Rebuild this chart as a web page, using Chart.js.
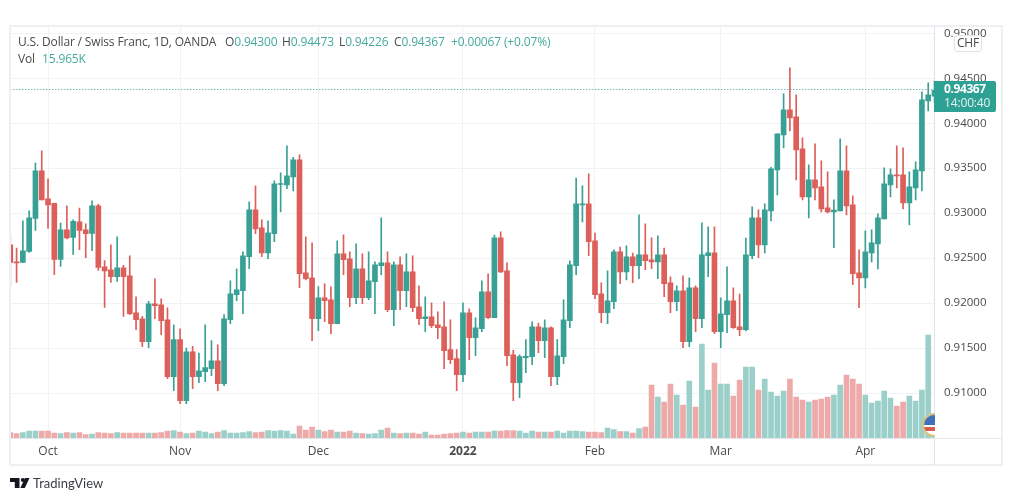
<!DOCTYPE html>
<html>
<head>
<meta charset="utf-8">
<title>USD/CHF</title>
<script src="https://cdn.jsdelivr.net/npm/chart.js@4"></script>
<style>
    html, body { margin: 0; padding: 0; background: #fff; }
    body { width: 1012px; height: 501px; overflow: hidden; position: relative; font-family: "Open Sans", sans-serif; color: #4a4a4a; }
    canvas { position: absolute; left: 0; top: 0; }
    .box { position: absolute; box-sizing: border-box; }
    .txt { position: absolute; white-space: nowrap; font-size: 12px; line-height: 16px; letter-spacing: -0.15px; }
    .up { color: #45a99d; }
</style>
</head>
<body>
<canvas id="myChart" width="1012" height="501"></canvas>

<div class="box" style="left:9px;top:25px;width:994px;height:441px;border:2px solid #eef0f3;"></div>
<div class="box" style="left:934px;top:26px;width:1px;height:439px;background:#e0e3eb;"></div>
<div class="box" style="left:10px;top:438px;width:992px;height:1px;background:#e6e8ee;"></div>

<div class="txt" style="left:18px;top:34px;">U.S. Dollar / Swiss Franc, 1D, OANDA</div>
<div class="txt" style="left:225px;top:34px;">O<span class="up">0.94300</span></div>
<div class="txt" style="left:282px;top:34px;">H<span class="up">0.94473</span></div>
<div class="txt" style="left:339px;top:34px;">L<span class="up">0.94226</span></div>
<div class="txt" style="left:394px;top:34px;">C<span class="up">0.94367</span></div>
<div class="txt up" style="left:451px;top:34px;">+0.00067 (+0.07%)</div>
<div class="txt" style="left:18px;top:51px;">Vol</div>
<div class="txt up" style="left:42px;top:51px;">15.965K</div>

<div class="box" style="left:954px;top:35px;width:28px;height:17px;background:#fff;border:1px solid #e0e3eb;border-radius:3px;"></div>
<div class="txt" style="left:954px;top:35px;width:28px;text-align:center;">CHF</div>

<div class="box" style="left:934px;top:81px;width:62px;height:31px;background:#2ea195;border-radius:0 2px 2px 0;"></div>
<div class="txt" style="left:944px;top:81px;color:#fff;font-weight:700;letter-spacing:-0.4px;">0.94367</div>
<div class="txt" style="left:944px;top:95px;color:#e3f3f1;">14:00:40</div>

<div class="box" style="left:918px;top:410px;width:17px;height:28px;overflow:hidden;">
    <div class="box" style="left:4px;top:3px;width:24px;height:24px;border-radius:50%;border:2px solid #d8c27f;background:linear-gradient(#3f72bd 0 52%, #fff 52% 62%, #d65a55 62% 82%, #fff 82%);"></div>
</div>

<svg class="box" style="left:10px;top:478px;" width="20" height="10" viewBox="0 0 20 10">
    <path d="M0 0H9.5V10H4.8V4H0Z" fill="#131722"/>
    <circle cx="12.8" cy="2" r="2" fill="#131722"/>
    <path d="M15 0H19.5L14.8 10H10.3Z" fill="#131722"/>
</svg>
<div class="txt" style="left:33px;top:475px;font-family:Lato,sans-serif;font-size:13px;color:#3a3d45;letter-spacing:0;">TradingView</div>

<script>
// one bar per trading day, the first one is partly cut off by the pane edge
const opens = [
    0.92648, 0.92459, 0.92452, 0.92574, 0.92941, 0.93471,
    0.93159, 0.93108, 0.92485, 0.92815, 0.92730, 0.92904, 0.92815, 0.92774, 0.93082, 0.92404,
    0.92371, 0.92293, 0.92393, 0.92304, 0.91893, 0.91826, 0.91571, 0.91993, 0.91982, 0.91815,
    0.91182, 0.91593, 0.90915, 0.91459, 0.91182, 0.91237, 0.91271, 0.91359, 0.91104, 0.91815,
    0.92093, 0.92137, 0.92515, 0.93037, 0.92837, 0.92559, 0.92771, 0.93319, 0.93315, 0.93404,
    0.93593, 0.92337, 0.92282, 0.91826, 0.92059, 0.92037, 0.91771, 0.92548, 0.92493, 0.92059,
    0.92382, 0.92059, 0.92237, 0.92415, 0.92448, 0.91926, 0.92426, 0.92137, 0.92348, 0.91959,
    0.91826, 0.91848, 0.91759, 0.91737, 0.91482, 0.91382, 0.91204, 0.91893, 0.91615, 0.91715,
    0.92126, 0.91837, 0.92726, 0.92359, 0.91426, 0.91115, 0.91393, 0.91404, 0.91737, 0.91582,
    0.91726, 0.91182, 0.91404, 0.91804, 0.92415, 0.93093, 0.93104, 0.92693, 0.92104, 0.91893,
    0.92015, 0.92571, 0.92348, 0.92515, 0.92415, 0.92537, 0.92482, 0.92459, 0.92537, 0.92226,
    0.92015, 0.92137, 0.91571, 0.92171, 0.91826, 0.92526, 0.92559, 0.91682, 0.91871, 0.92026,
    0.91737, 0.91704, 0.92526, 0.92948, 0.92648, 0.93026, 0.93481, 0.93870, 0.94148, 0.94070,
    0.93715, 0.93181, 0.93370, 0.93293, 0.93059, 0.93015, 0.93026, 0.93470, 0.93093, 0.92337,
    0.92281, 0.92559, 0.92659, 0.92937, 0.93315, 0.93426, 0.93426, 0.93115, 0.93281, 0.93470,
    0.94248, 0.94300,
];
const highs = [
    0.92748, 0.92611, 0.92915, 0.93026, 0.93556, 0.93693,
    0.93382, 0.93111, 0.92889, 0.93082, 0.92926, 0.93056, 0.92882, 0.93137, 0.93100, 0.92474,
    0.92648, 0.92737, 0.92419, 0.92526, 0.92071, 0.91852, 0.92019, 0.92271, 0.92048, 0.91948,
    0.91759, 0.91715, 0.91500, 0.91519, 0.91445, 0.91759, 0.91582, 0.91537, 0.91871, 0.92248,
    0.92382, 0.92571, 0.93126, 0.93304, 0.92926, 0.92915, 0.93359, 0.93448, 0.93748, 0.93622,
    0.93648, 0.92737, 0.92671, 0.92185, 0.92215, 0.92182, 0.92693, 0.92759, 0.92571, 0.92659,
    0.92548, 0.92571, 0.92459, 0.92948, 0.92571, 0.92459, 0.92515, 0.92548, 0.92526, 0.92193,
    0.92071, 0.92004, 0.91904, 0.92015, 0.91815, 0.91482, 0.92004, 0.91937, 0.91837, 0.92248,
    0.92326, 0.92756, 0.92793, 0.92448, 0.91474, 0.91426, 0.91593, 0.91793, 0.91778, 0.91815,
    0.91737, 0.91593, 0.92037, 0.92471, 0.93389, 0.93304, 0.93437, 0.92778, 0.92226, 0.92359,
    0.92593, 0.92622, 0.92637, 0.92556, 0.92982, 0.92882, 0.92726, 0.92748, 0.92611, 0.92293,
    0.92193, 0.92304, 0.92282, 0.92193, 0.92893, 0.92848, 0.92848, 0.92059, 0.92404, 0.92170,
    0.92100, 0.92722, 0.93070, 0.93037, 0.93104, 0.93511, 0.93881, 0.94326, 0.94615, 0.94315,
    0.93837, 0.93537, 0.93770, 0.93581, 0.93459, 0.93148, 0.93826, 0.93748, 0.93193, 0.92593,
    0.92804, 0.92815, 0.92993, 0.93504, 0.93493, 0.93748, 0.93726, 0.93459, 0.93570, 0.94348,
    0.94448, 0.94473,
];
const lows = [
    0.92185, 0.92230, 0.92452, 0.92563, 0.92808, 0.93148,
    0.92830, 0.92315, 0.92408, 0.92715, 0.92541, 0.92593, 0.92504, 0.92582, 0.92363, 0.91952,
    0.92230, 0.92241, 0.91852, 0.91871, 0.91704, 0.91515, 0.91504, 0.91826, 0.91648, 0.91159,
    0.91026, 0.90882, 0.90882, 0.91048, 0.91115, 0.91126, 0.91193, 0.91026, 0.91082, 0.91771,
    0.92026, 0.91882, 0.92382, 0.92771, 0.92515, 0.92493, 0.92682, 0.93015, 0.93271, 0.93248,
    0.92171, 0.92259, 0.91582, 0.91693, 0.91793, 0.91659, 0.91771, 0.92315, 0.91959, 0.91993,
    0.91993, 0.92037, 0.91882, 0.92315, 0.91904, 0.91748, 0.91926, 0.91959, 0.91904, 0.91759,
    0.91682, 0.91726, 0.91604, 0.91271, 0.91326, 0.91026, 0.91126, 0.91371, 0.91415, 0.91682,
    0.91826, 0.91837, 0.92337, 0.91304, 0.90915, 0.90948, 0.91226, 0.91315, 0.91448, 0.91393,
    0.91082, 0.91093, 0.91326, 0.91726, 0.92315, 0.92904, 0.92526, 0.92048, 0.91782, 0.91771,
    0.91937, 0.92215, 0.92259, 0.92226, 0.92271, 0.92371, 0.92382, 0.92271, 0.92071, 0.91893,
    0.91915, 0.91504, 0.91515, 0.91682, 0.91726, 0.92293, 0.91659, 0.91504, 0.91671, 0.91719,
    0.91637, 0.91690, 0.92493, 0.92504, 0.92559, 0.92915, 0.93204, 0.93726, 0.93915, 0.93370,
    0.93148, 0.92948, 0.93148, 0.93015, 0.93004, 0.92615, 0.93026, 0.92981, 0.92204, 0.91948,
    0.92170, 0.92459, 0.92381, 0.92937, 0.93181, 0.93281, 0.93048, 0.92870, 0.93148, 0.93248,
    0.94137, 0.94226,
];
const closes = [
    0.92452, 0.92448, 0.92582, 0.92948, 0.93471, 0.93148,
    0.93093, 0.92485, 0.92815, 0.92726, 0.92908, 0.92808, 0.92771, 0.93082, 0.92396, 0.92359,
    0.92293, 0.92393, 0.92293, 0.91882, 0.91815, 0.91571, 0.91993, 0.91971, 0.91804, 0.91182,
    0.91593, 0.90915, 0.91459, 0.91182, 0.91248, 0.91282, 0.91359, 0.91104, 0.91826, 0.92104,
    0.92148, 0.92526, 0.93037, 0.92826, 0.92559, 0.92782, 0.93326, 0.93326, 0.93415, 0.93593,
    0.92326, 0.92271, 0.91826, 0.92059, 0.92026, 0.91771, 0.92548, 0.92482, 0.92059, 0.92382,
    0.92059, 0.92248, 0.92426, 0.92448, 0.91926, 0.92426, 0.92137, 0.92348, 0.91948, 0.91826,
    0.91848, 0.91748, 0.91726, 0.91471, 0.91371, 0.91204, 0.91893, 0.91615, 0.91726, 0.92126,
    0.91837, 0.92726, 0.92348, 0.91415, 0.91115, 0.91404, 0.91408, 0.91737, 0.91582, 0.91726,
    0.91182, 0.91415, 0.91815, 0.92426, 0.93104, 0.93104, 0.92682, 0.92093, 0.91893, 0.92026,
    0.92571, 0.92348, 0.92515, 0.92415, 0.92537, 0.92471, 0.92459, 0.92537, 0.92215, 0.92015,
    0.92137, 0.91571, 0.92171, 0.91826, 0.92537, 0.92559, 0.91682, 0.91882, 0.92026, 0.91726,
    0.91704, 0.92537, 0.92948, 0.92648, 0.93037, 0.93493, 0.93881, 0.94148, 0.94059, 0.93704,
    0.93181, 0.93370, 0.93281, 0.93048, 0.93015, 0.93033, 0.93470, 0.93081, 0.92326, 0.92281,
    0.92570, 0.92670, 0.92948, 0.93326, 0.93426, 0.93415, 0.93115, 0.93293, 0.93481, 0.94259,
    0.94315, 0.94367,
];
// in thousands
const volumes = [
    5.5, 4.5, 5.5, 7, 7, 7,
    7, 5, 4.5, 5.5, 5, 5.5, 3.5, 4, 5.5, 5,
    4.5, 5.5, 5, 5, 5, 5, 5, 5, 5.5, 7,
    7.5, 6, 4.5, 5, 7, 6, 4.5, 6, 7.5, 5,
    5, 5.5, 6.5, 5.5, 6, 7.5, 7, 7.5, 7, 4,
    12, 8, 11, 8, 6.5, 8, 6, 6, 7, 5,
    4.5, 4, 4.5, 8, 10, 5, 4.5, 5, 5, 4,
    6, 3, 3, 4, 4.5, 5, 6, 5, 6, 6,
    6, 7, 7, 7.5, 7.5, 7, 5, 7, 6, 6,
    6, 7, 5, 7, 7, 6.5, 6, 6, 5.5, 10,
    8.5, 6.5, 6.5, 5, 9.5, 11, 53, 41, 36, 54,
    43, 33, 57, 31, 94, 48, 75, 54, 54, 42,
    58, 71, 71, 48, 59, 46, 42, 47, 59, 41,
    38, 36, 38, 39, 41, 43, 53, 63, 59, 54,
    43, 35, 37, 47, 40, 32, 36, 42, 37, 48,
    103, 15.965,
];
const lastPrice = 0.94367;

const barNumbers = opens.map((_, i) => i);
const tickBars = [6, 27, 49, 72, 93, 113, 136];
const tickLabels = ["Oct", "Nov", "Dec", "2022", "Feb", "Mar", "Apr"];
const priceTicks = [0.91, 0.915, 0.92, 0.925, 0.93, 0.935, 0.94, 0.945, 0.95];

const upColor = "#38a094";
const downColor = "#dc5f5a";
const upVolColor = "#9bd0ca";
const downVolColor = "#eeaaa8";

const isUp = (i) => closes[i] >= opens[i];
const fontFamily = '"Open Sans", sans-serif';

// dotted line at the last price, snapped to a pixel row so it stays crisp
const lastPriceLine = {
    id: "lastPriceLine",
    afterDatasetsDraw(chart) {
        const ctx = chart.ctx;
        const area = chart.chartArea;
        const y = Math.round(chart.scales.y.getPixelForValue(lastPrice)) - 0.5;
        ctx.save();
        ctx.strokeStyle = upColor;
        ctx.lineWidth = 1;
        ctx.setLineDash([1, 2]);
        ctx.beginPath();
        ctx.moveTo(area.left, y);
        ctx.lineTo(area.right, y);
        ctx.stroke();
        ctx.restore();
    },
};

const data = {
    labels: barNumbers,
    datasets: [
        {
            // candle bodies
            data: barNumbers.map((i) => [opens[i], closes[i]]),
            backgroundColor: barNumbers.map((i) => (isUp(i) ? upColor : downColor)),
            barThickness: 5,
            minBarLength: 1,
            grouped: false,
            yAxisID: "y",
            order: 1,
        },
        {
            // wicks
            data: barNumbers.map((i) => [lows[i], highs[i]]),
            backgroundColor: barNumbers.map((i) => (isUp(i) ? upColor : downColor)),
            barThickness: 1,
            grouped: false,
            yAxisID: "y",
            order: 2,
        },
        {
            data: volumes,
            backgroundColor: barNumbers.map((i) => (isUp(i) ? upVolColor : downVolColor)),
            barThickness: 5,
            grouped: false,
            yAxisID: "yVol",
            order: 3,
        },
    ],
};

const config = {
    type: "bar",
    data: data,
    plugins: [lastPriceLine],
    options: {
        responsive: false,
        animation: false,
        layout: { padding: { left: 10.3, top: 27, right: 0, bottom: 36 } },
        plugins: { legend: { display: false }, tooltip: { enabled: false } },
        scales: {
            x: {
                offset: false,
                border: { display: false },
                grid: { offset: false, color: "#f0f2f6", drawTicks: false },
                afterBuildTicks(scale) {
                    scale.ticks = scale.ticks.filter((t) => tickBars.includes(t.value));
                },
                afterFit(scale) {
                    scale.height = 27;
                },
                ticks: {
                    autoSkip: false,
                    maxRotation: 0,
                    padding: 6,
                    color: "#4a4a4a",
                    font: (ctx) => ({
                        family: fontFamily,
                        size: 12,
                        weight: ctx.tick && ctx.tick.label === "2022" ? "bold" : "normal",
                    }),
                    callback: (value) => tickLabels[tickBars.indexOf(value)],
                },
            },
            y: {
                position: "right",
                min: 0.905,
                max: 0.9507,
                border: { display: false },
                grid: { color: "#f0f2f6", drawTicks: false },
                afterBuildTicks(scale) {
                    scale.ticks = priceTicks.map((value) => ({ value }));
                },
                afterFit(scale) {
                    scale.width = 77.5;
                },
                ticks: {
                    autoSkip: false,
                    padding: 9.5,
                    color: "#4a4a4a",
                    font: { family: fontFamily, size: 11.5 },
                    callback: (value) => value.toFixed(5),
                },
            },
            yVol: {
                display: false,
                min: 0,
                max: 411,
            },
        },
    },
};

document.addEventListener("DOMContentLoaded", function () {
    const ctx = document.getElementById("myChart").getContext("2d");
    new Chart(ctx, config);
});
</script>
</body>
</html>
